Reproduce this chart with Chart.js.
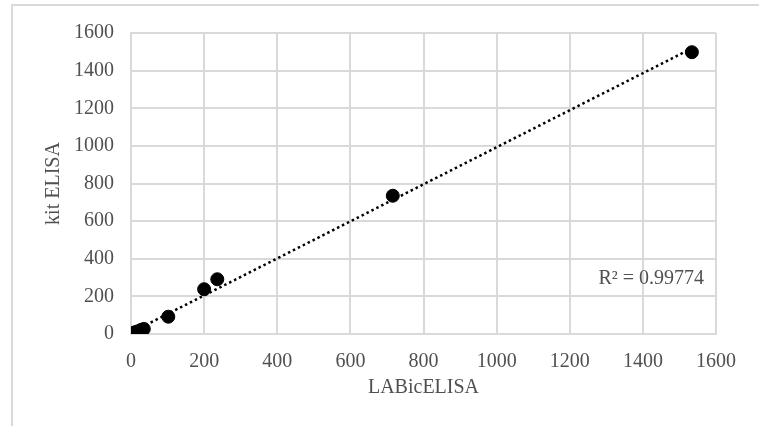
<!DOCTYPE html>
<html><head><meta charset="utf-8">
<script src="https://cdn.jsdelivr.net/npm/chart.js@4"></script>
<style>
html,body{margin:0;padding:0;background:#fff;width:759px;height:426px;overflow:hidden;}
#frame{position:absolute;left:11px;top:4px;width:800px;height:500px;border-left:2px solid #d9d9d9;border-top:2px solid #d9d9d9;}
#c{position:absolute;left:0;top:0;}
</style></head>
<body>
<div id="frame"></div>
<canvas id="c" width="759" height="426"></canvas>
<script>
const labicElisa = [2, 6, 12, 20, 28, 35, 102, 200, 236, 716, 1534];
const kitElisa   = [2, 5, 10, 15, 22, 27, 92, 238, 291, 735, 1498];
const tickValues = [0, 200, 400, 600, 800, 1000, 1200, 1400, 1600];
const rSquaredLabel = 'R² = 0.99774';
const xTitle = 'LABicELISA';
const yTitle = 'kit ELISA';

const points = labicElisa.map((x, i) => ({x: x, y: kitElisa[i]}));
// least-squares linear trendline from the data
const n = labicElisa.length;
const mx = labicElisa.reduce((a,b)=>a+b,0)/n;
const my = kitElisa.reduce((a,b)=>a+b,0)/n;
let sxy=0, sxx=0;
for (let i=0;i<n;i++){ sxy += (labicElisa[i]-mx)*(kitElisa[i]-my); sxx += (labicElisa[i]-mx)**2; }
const slope = sxy/sxx, intercept = my - slope*mx;
const xMin = 0, xMax = Math.max(...labicElisa);
const trend = [{x:xMin, y:intercept+slope*xMin},{x:xMax, y:intercept+slope*xMax}];

const textColor = '#505050';
const serif = '"Liberation Serif", "Times New Roman", serif';

const r2Plugin = {
  id: 'r2',
  afterDatasetsDraw(chart){
    const {ctx, chartArea} = chart;
    ctx.save();
    ctx.font = '20px ' + serif;
    ctx.fillStyle = textColor;
    ctx.textAlign = 'right';
    ctx.textBaseline = 'middle';
    ctx.fillText(rSquaredLabel, chartArea.right - 12, chartArea.bottom - 55);
    ctx.restore();
  }
};

const plain = v => String(v);

new Chart(document.getElementById('c'), {
  type: 'scatter',
  data: {
    datasets: [
      {
        type: 'line',
        data: trend,
        borderColor: '#000',
        borderWidth: 2.5,
        borderDash: [2.5, 3],
        pointRadius: 0,
        fill: false,
        order: 2
      },
      {
        data: points,
        backgroundColor: '#000',
        borderColor: '#000',
        pointRadius: 6.5,
        pointHoverRadius: 6.5,
        order: 1
      }
    ]
  },
  options: {
    responsive: false,
    animation: false,
    devicePixelRatio: 1,
    layout: {padding: {top: 33, right: 43, left: 0, bottom: 0}},
    plugins: {legend: {display: false}, tooltip: {enabled: false}},
    scales: {
      x: {
        type: 'linear',
        min: 0, max: 1600,
        afterBuildTicks(s){ s.ticks = tickValues.map(v=>({value:v})); },
        afterFit(s){ s.height = 92; },
        grid: {color: '#d9d9d9', lineWidth: 2, drawTicks: false},
        border: {color: '#d9d9d9', width: 2},
        ticks: {color: textColor, font: {family: serif, size: 20}, padding: 16, maxRotation: 0, callback: plain},
        title: {display: true, text: xTitle, color: textColor, font: {family: serif, size: 20}, padding: {top: 0, bottom: 26}}
      },
      y: {
        type: 'linear',
        min: 0, max: 1600,
        afterBuildTicks(s){ s.ticks = tickValues.map(v=>({value:v})); },
        afterFit(s){ s.width = 131; },
        grid: {color: '#d9d9d9', lineWidth: 2, drawTicks: false},
        border: {color: '#d9d9d9', width: 2},
        ticks: {color: textColor, font: {family: serif, size: 20}, padding: 17, callback: plain},
        title: {display: true, text: yTitle, color: textColor, font: {family: serif, size: 20}, padding: {top: 42, bottom: 0}}
      }
    }
  },
  plugins: [r2Plugin]
});
</script>
</body></html>
